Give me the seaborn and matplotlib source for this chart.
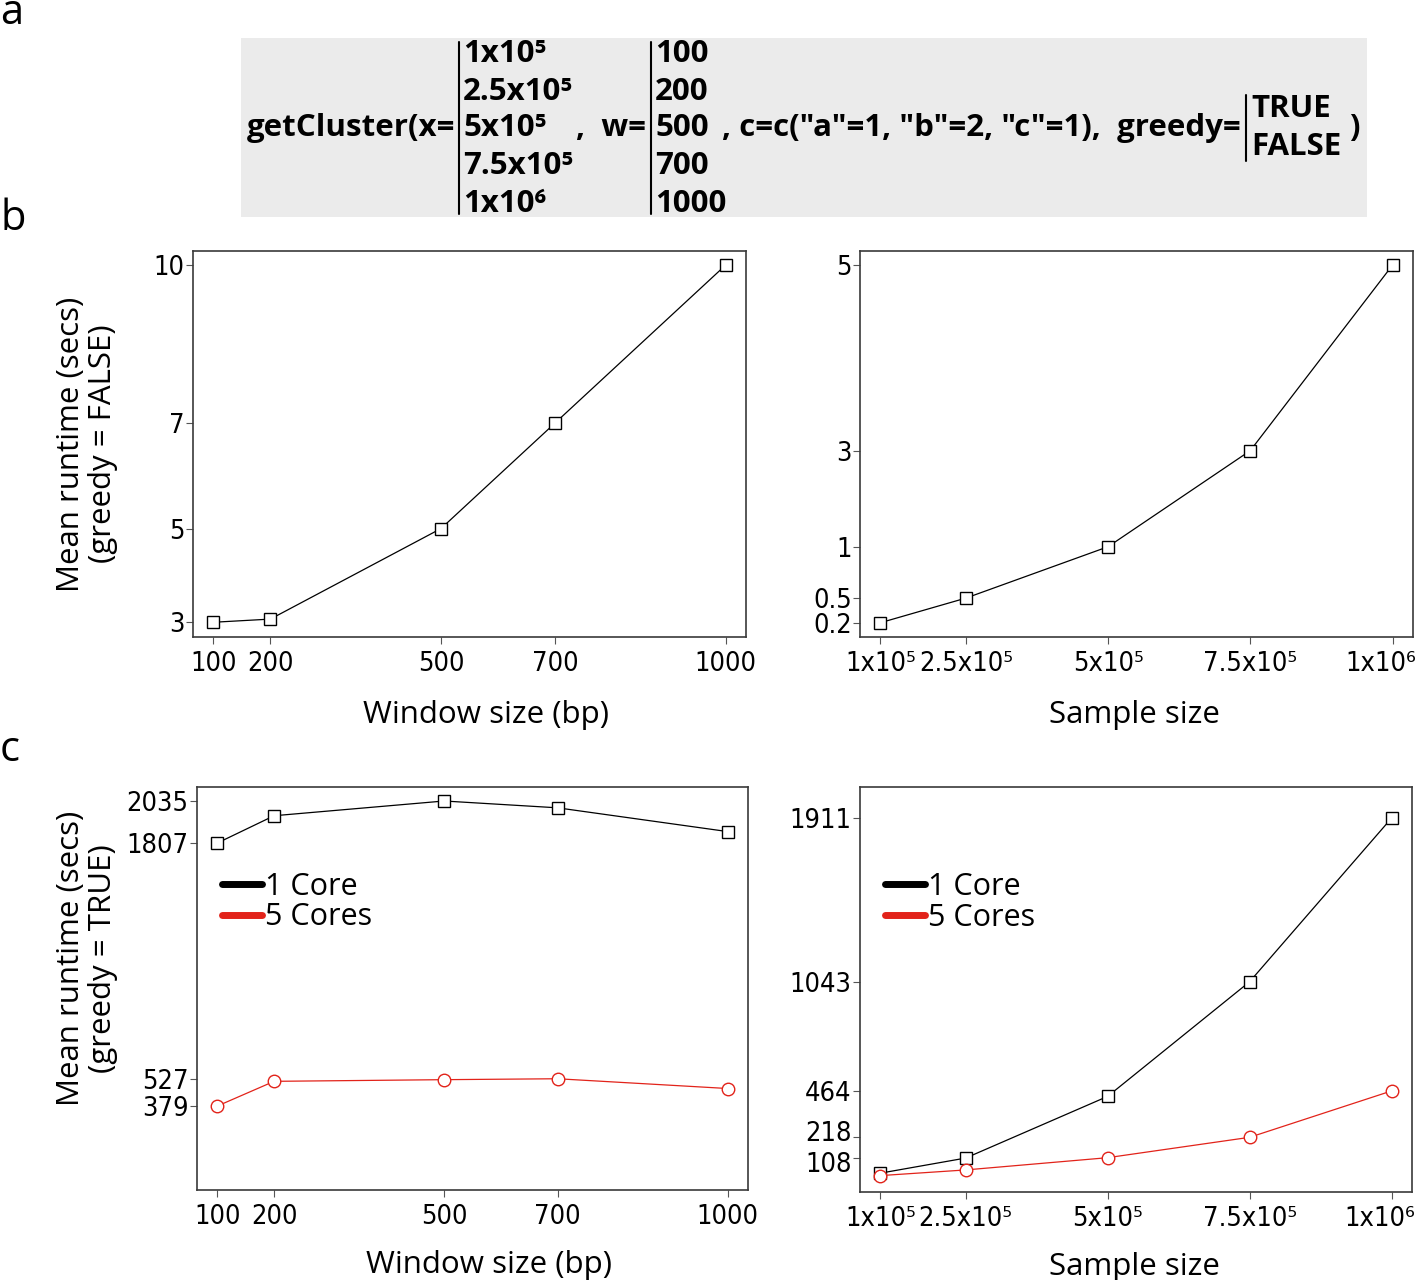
import matplotlib
matplotlib.use("Agg")
import matplotlib.pyplot as plt
import matplotlib.transforms as mtransforms
from matplotlib.lines import Line2D
from matplotlib.patches import Rectangle
import seaborn as sns

# data
window_sizes = [100, 200, 500, 700, 1000]
sample_sizes = [1e5, 2.5e5, 5e5, 7.5e5, 1e6]
window_labels = ["100", "200", "500", "700", "1000"]
sample_labels = ["1x10⁵", "2.5x10⁵", "5x10⁵", "7.5x10⁵", "1x10⁶"]

# greedy = FALSE
false_window_runtime = [3.22, 3.28, 5.0, 7.0, 10.0]
false_window_ticks = [3.22, 5.0, 7.0, 10.0]
false_window_ticklabels = ["3", "5", "7", "10"]
false_sample_runtime = [0.2, 0.53, 1.22, 2.51, 5.0]
false_sample_ticks = [0.2, 0.53, 1.22, 2.51, 5.0]
false_sample_ticklabels = ["0.2", "0.5", "1", "3", "5"]

# greedy = TRUE
true_window_1core = [1807, 1955, 2035, 1998, 1869]
true_window_5cores = [379, 513, 522, 527, 474]
true_window_ticks = [379, 527, 1807, 2035]
true_sample_1core = [28, 108, 435, 1043, 1911]
true_sample_5cores = [15, 45, 110, 218, 464]
true_sample_ticks = [108, 218, 464, 1043, 1911]

x_values = ["1x10⁵", "2.5x10⁵", "5x10⁵", "7.5x10⁵", "1x10⁶"]
w_values = ["100", "200", "500", "700", "1000"]

RED = "#e2231a"
W, H = 1418, 1280

sns.set_style("ticks")
plt.rcParams["font.family"] = ["Open Sans", "DejaVu Sans"]
plt.rcParams["axes.edgecolor"] = "#3a3a3a"
plt.rcParams["axes.linewidth"] = 1.2
plt.rcParams["text.color"] = "black"
plt.rcParams["axes.labelcolor"] = "black"

fig = plt.figure(figsize=(W / 100, H / 100), dpi=100)


def fx(px):
    return px / W


def fy(py):
    return 1 - py / H


tick_font = ["DejaVu Sans"]
label_font = ["Open Sans", "DejaVu Sans"]
LABEL_SIZE = 22.5


def shift(label, dx_px, dy_px):
    label.set_transform(label.get_transform() +
                        mtransforms.ScaledTranslation(dx_px / 100, dy_px / 100,
                                                      fig.dpi_scale_trans))


def style_axis(ax, xticks, xlabels, xlim, yticks, ylabels, ylim):
    ax.set_xlim(*xlim)
    ax.set_ylim(*ylim)
    ax.set_xticks(xticks)
    ax.set_xticklabels(xlabels, family=tick_font, fontstretch="condensed", fontsize=19.5)
    ax.set_yticks(yticks)
    ax.set_yticklabels(ylabels, family=tick_font, fontstretch="condensed", fontsize=19.5)
    ax.tick_params(axis="both", direction="out", length=5, width=0.8,
                   color="#555555", labelcolor="black")
    ax.tick_params(axis="x", pad=5)
    ax.tick_params(axis="y", pad=1)
    for s in ax.spines.values():
        s.set_visible(True)


def draw_square(ax, x, y):
    sns.lineplot(x=x, y=y, ax=ax, color="black", linewidth=0.9, marker="s",
                 markersize=8.5, markerfacecolor="white", markeredgecolor="black",
                 markeredgewidth=1.0, legend=False)


def draw_circle(ax, x, y):
    sns.lineplot(x=x, y=y, ax=ax, color=RED, linewidth=0.9, marker="o",
                 markersize=9, markerfacecolor="white", markeredgecolor=RED,
                 markeredgewidth=1.0, legend=False)


def add_legend(ax):
    handles = [Line2D([0], [0], color="black", lw=5, solid_capstyle="round"),
               Line2D([0], [0], color=RED, lw=5, solid_capstyle="round")]
    ax.legend(handles, ["1 Core", "5 Cores"], loc="upper left", frameon=False,
              bbox_to_anchor=(0.045, 0.79), borderaxespad=0, borderpad=0,
              handlelength=1.3, handletextpad=0.12, labelspacing=0.02,
              prop={"family": label_font, "size": 22})


# ---- panel a: the call
fig.patches.append(Rectangle((fx(241), fy(217)), fx(1367) - fx(241), fy(38) - fy(217),
                             transform=fig.transFigure, facecolor="#ebebeb",
                             edgecolor="none", zorder=0))
code_kw = dict(fontsize=22.5, fontweight="bold", family=label_font, va="center")
rows = [54, 92, 128, 166, 204]
fig.text(fx(455), fy(128), "getCluster(x=", ha="right", **code_kw)
for r, v in zip(rows, x_values):
    fig.text(fx(463), fy(r), v, ha="left", **code_kw)
fig.text(fx(646), fy(128), ",  w=", ha="right", **code_kw)
for r, v in zip(rows, w_values):
    fig.text(fx(655), fy(r), v, ha="left", **code_kw)
fig.text(fx(1241), fy(128), ', c=c("a"=1, "b"=2, "c"=1),  greedy=', ha="right", **code_kw)
fig.text(fx(1251), fy(109), "TRUE", ha="left", **code_kw)
fig.text(fx(1251), fy(147), "FALSE", ha="left", **code_kw)
fig.text(fx(1349), fy(128), ")", ha="left", **code_kw)
for xb, y0, y1 in [(459, 42, 214), (651, 42, 214), (1246, 95, 161)]:
    fig.add_artist(Line2D([fx(xb), fx(xb)], [fy(y0), fy(y1)], color="black", lw=1.5))

# panel letters (baseline positions)
for letter, py in [("a", 24), ("b", 230), ("c", 761)]:
    fig.text(fx(0), fy(py), letter, ha="left", va="baseline", fontsize=30, family=label_font)

# ---- panel b
ax1 = fig.add_axes([fx(193), fy(637), fx(746) - fx(193), fy(251) - fy(637)])
draw_square(ax1, window_sizes, false_window_runtime)
style_axis(ax1, window_sizes, window_labels, (64, 1036),
           false_window_ticks, false_window_ticklabels, (2.94, 10.27))
ax1.set_xlabel("Window size (bp)", fontsize=LABEL_SIZE, family=label_font, va="top")
ax1.xaxis.set_label_coords(0.53, -0.163)
ax1.set_ylabel("Mean runtime (secs)\n(greedy = FALSE)", fontsize=LABEL_SIZE,
               family=label_font, linespacing=1.1)
ax1.yaxis.set_label_coords(-0.135, 0.5)

ax2 = fig.add_axes([fx(860), fy(637), fx(1413) - fx(860), fy(251) - fy(637)])
draw_square(ax2, sample_sizes, false_sample_runtime)
style_axis(ax2, sample_sizes, sample_labels, (64000, 1036000),
           false_sample_ticks, false_sample_ticklabels, (0.008, 5.19))
ax2.set_xlabel("Sample size", fontsize=LABEL_SIZE, family=label_font, va="top")
ax2.xaxis.set_label_coords(0.497, -0.163)
ax2.set_ylabel("")
shift(ax2.get_xticklabels()[-1], -12, 0)

# ---- panel c
ax3 = fig.add_axes([fx(197), fy(1190), fx(748) - fx(197), fy(787) - fy(1190)])
draw_square(ax3, window_sizes, true_window_1core)
draw_circle(ax3, window_sizes, true_window_5cores)
style_axis(ax3, window_sizes, window_labels, (64, 1036),
           true_window_ticks, [str(t) for t in true_window_ticks], (-77, 2111))
ax3.set_xlabel("Window size (bp)", fontsize=LABEL_SIZE, family=label_font, va="top")
ax3.xaxis.set_label_coords(0.53, -0.148)
ax3.set_ylabel("Mean runtime (secs)\n(greedy = TRUE)", fontsize=LABEL_SIZE,
               family=label_font, linespacing=1.1)
ax3.yaxis.set_label_coords(-0.143, 0.575)
add_legend(ax3)

ax4 = fig.add_axes([fx(860), fy(1192), fx(1412) - fx(860), fy(787) - fy(1192)])
draw_square(ax4, sample_sizes, true_sample_1core)
draw_circle(ax4, sample_sizes, true_sample_5cores)
style_axis(ax4, sample_sizes, sample_labels, (64000, 1036000),
           true_sample_ticks, [str(t) for t in true_sample_ticks], (-72, 2076))
ax4.set_xlabel("Sample size", fontsize=LABEL_SIZE, family=label_font, va="top")
ax4.xaxis.set_label_coords(0.497, -0.148)
ax4.set_ylabel("")
add_legend(ax4)
shift(ax4.get_xticklabels()[-1], -12, 0)
ylabs = ax4.get_yticklabels()
shift(ylabs[0], 0, -4)   # 108 nudged down, as in the original
shift(ylabs[1], 0, 6)    # 218 nudged up

fig.savefig("out.png", dpi=100)
